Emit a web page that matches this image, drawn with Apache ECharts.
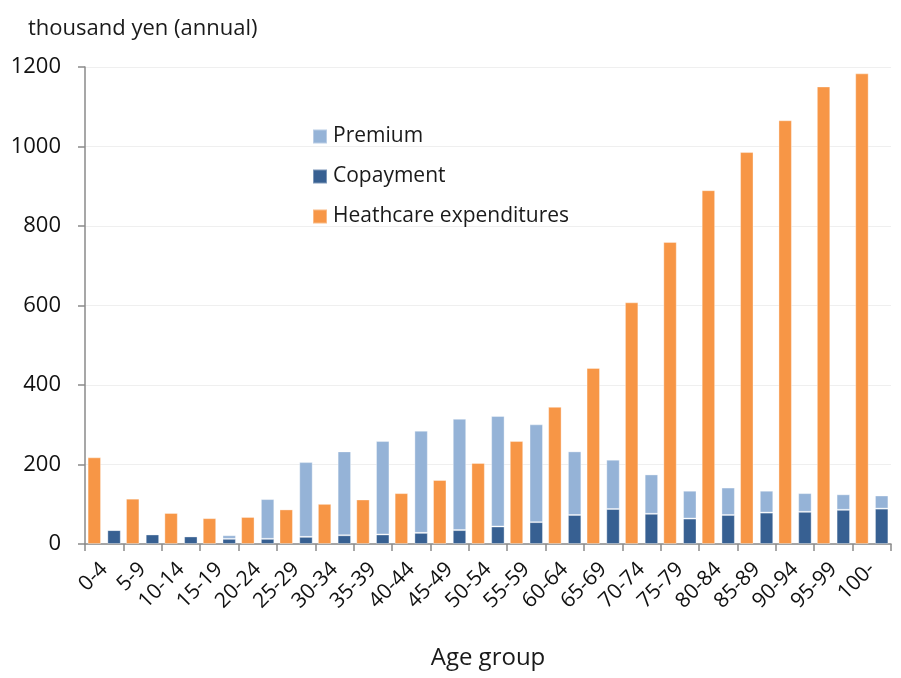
<!DOCTYPE html>
<html>
<head>
<meta charset="utf-8">
<script src="https://cdn.jsdelivr.net/npm/echarts@6/dist/echarts.min.js"></script>
<style>
  html, body { margin: 0; padding: 0; background: #fff; }
  #chart { width: 901px; height: 678px; }
</style>
</head>
<body>
<div id="chart"></div>
<script>
// Age groups along the x axis
const ageGroups = ['0-4', '5-9', '10-14', '15-19', '20-24', '25-29', '30-34', '35-39',
  '40-44', '45-49', '50-54', '55-59', '60-64', '65-69', '70-74', '75-79', '80-84',
  '85-89', '90-94', '95-99', '100-'];

// Annual healthcare expenditures per person (thousand yen)
const healthcare = [218, 114, 78, 65, 68, 87, 101, 112, 128, 161, 204, 259, 345,
  443, 608, 760, 890, 986, 1066, 1151, 1184];

// Copayment (bottom of the stacked bar)
const copayment = [35, 24, 19, 13, 13, 18, 22, 24, 28, 35, 44, 55, 73,
  88, 76, 64, 73, 79, 81, 86, 89];

// Premium (stacked on top of copayment)
const premium = [0, 0, 0, 9, 100, 188, 211, 235, 257, 280, 278, 246, 160,
  124, 99, 70, 69, 55, 47, 39, 33];

const yTicks = { min: 0, max: 1200, interval: 200 };

const FONT = 'Open Sans';
const C_PREMIUM = '#95B3D7';
const C_COPAY = '#376092';
const C_HEALTH = '#F79646';
const barEdge = { borderColor: 'rgba(255,255,255,0.35)', borderWidth: 1 };

const chart = echarts.init(document.getElementById('chart'), null, { renderer: 'canvas' });

chart.setOption({
  animation: false,
  backgroundColor: '#fff',
  textStyle: { fontFamily: FONT },
  title: {
    text: 'thousand yen (annual)',
    left: 23,
    top: 13,
    textStyle: { fontFamily: FONT, fontSize: 22, fontWeight: 'normal', color: '#1a1a1a' }
  },
  legend: {
    data: ['Premium', 'Copayment', 'Heathcare expenditures'],
    orient: 'vertical',
    left: 307,
    top: 121,
    icon: 'rect',
    itemWidth: 14,
    itemHeight: 14,
    itemGap: 19,
    textStyle: { fontFamily: FONT, fontSize: 21, color: '#1a1a1a', padding: [0, 0, 0, 1] }
  },
  grid: { left: 85, right: 10, top: 67, bottom: 134 },
  xAxis: {
    type: 'category',
    data: ageGroups,
    name: 'Age group',
    nameLocation: 'middle',
    nameGap: 102,
    nameTextStyle: { fontFamily: FONT, fontSize: 24, color: '#1a1a1a' },
    axisLine: { lineStyle: { color: '#8a8a8a', width: 1.5 } },
    axisTick: { show: true, interval: 0, length: 7, lineStyle: { color: '#8a8a8a', width: 1.5 } },
    axisLabel: {
      interval: 0,
      rotate: 45,
      margin: 22,
      fontFamily: FONT,
      fontSize: 21,
      color: '#111'
    }
  },
  yAxis: {
    type: 'value',
    min: yTicks.min,
    max: yTicks.max,
    interval: yTicks.interval,
    axisLine: { show: true, lineStyle: { color: '#8a8a8a', width: 1.5 } },
    axisTick: { show: true, length: 7, lineStyle: { color: '#8a8a8a', width: 1.5 } },
    splitLine: { lineStyle: { color: '#efefef', width: 1 } },
    axisLabel: {
      margin: 24,
      fontFamily: FONT,
      fontSize: 22,
      color: '#111',
      formatter: (v) => String(v)
    }
  },
  series: [
    {
      name: 'Heathcare expenditures',
      type: 'bar',
      data: healthcare,
      barWidth: '35%',
      barGap: '47%',
      itemStyle: Object.assign({ color: C_HEALTH }, barEdge)
    },
    {
      name: 'Copayment',
      type: 'bar',
      stack: 'burden',
      data: copayment,
      barWidth: '35%',
      barGap: '47%',
      itemStyle: Object.assign({ color: C_COPAY }, barEdge)
    },
    {
      name: 'Premium',
      type: 'bar',
      stack: 'burden',
      data: premium,
      barWidth: '35%',
      barGap: '47%',
      itemStyle: Object.assign({ color: C_PREMIUM }, barEdge)
    }
  ]
});
</script>
</body>
</html>
